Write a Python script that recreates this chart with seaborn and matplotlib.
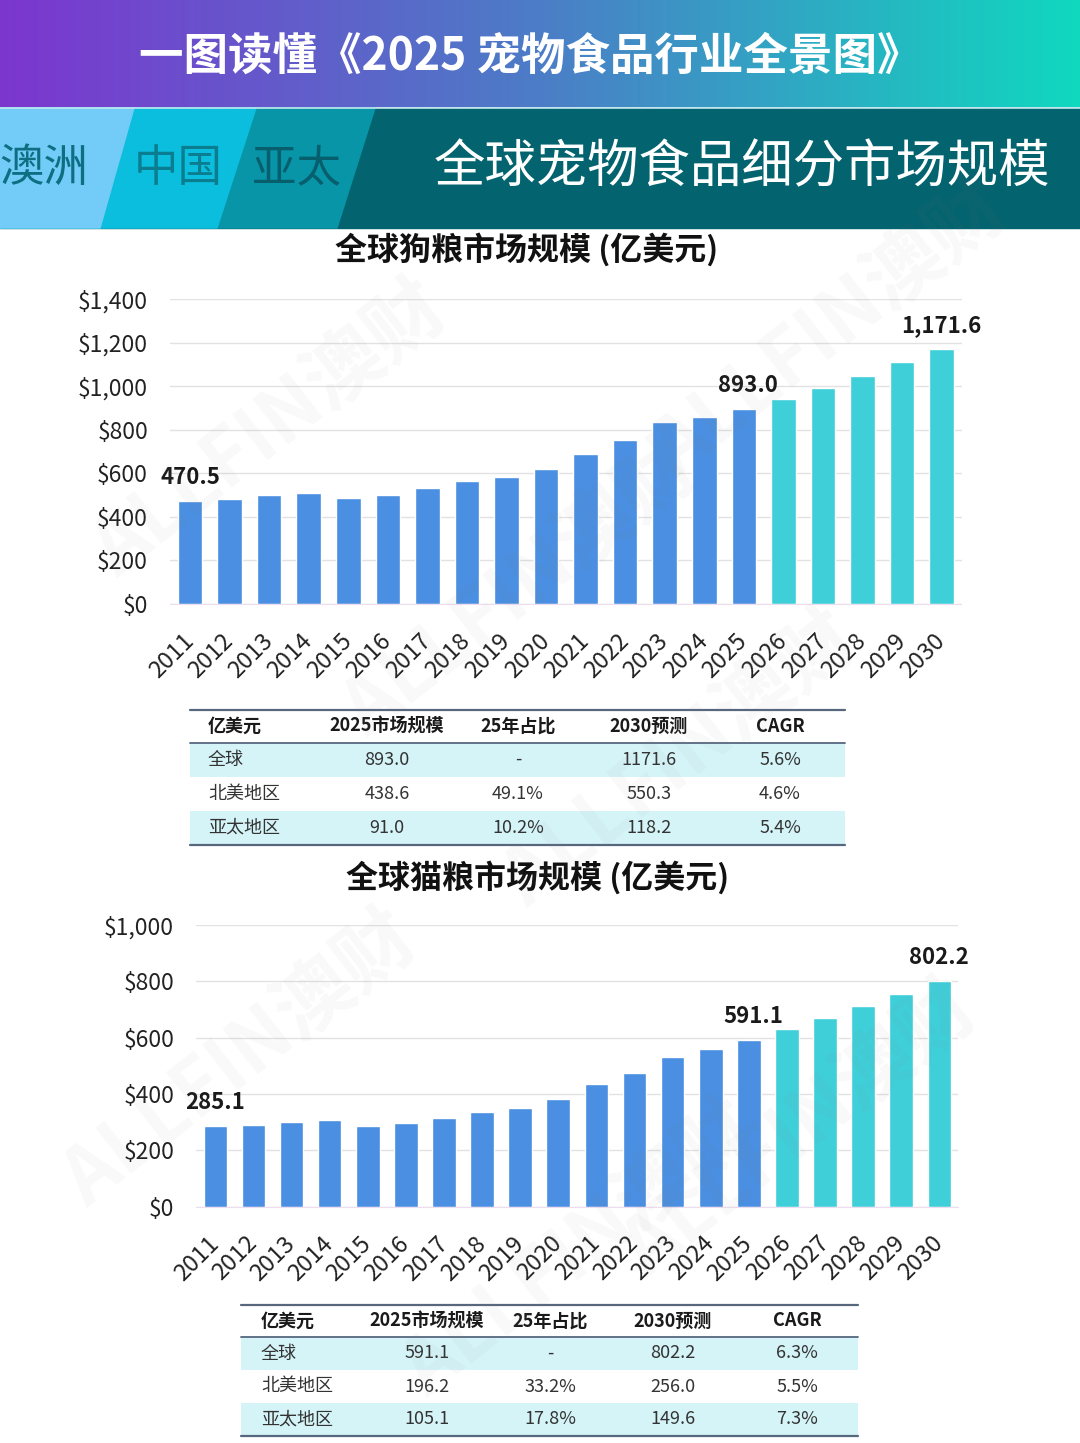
import numpy as np
import pandas as pd
import seaborn as sns
import matplotlib.pyplot as plt
from matplotlib.colors import LinearSegmentedColormap
from matplotlib.patches import Polygon, Rectangle
from matplotlib.ticker import FuncFormatter

sns.set_style("white")
plt.rcParams['font.family'] = ['Noto Sans CJK SC', 'DejaVu Sans']

# ---- data ----
years = [str(y) for y in range(2011, 2031)]
period = ['actual'] * 15 + ['forecast'] * 5
dog_vals = [470.5, 480, 500, 511, 485, 500, 532, 565, 583, 620,
            690, 754, 834, 860, 893.0, 941, 993, 1047, 1109, 1171.6]
cat_vals = [285.1, 289, 302, 309, 285, 296, 314, 337, 350, 381,
            436, 475, 531, 560, 591.1, 630, 670, 711, 754, 802.2]
label_idx = [0, 14, 19]

table_header = ['亿美元', '2025市场规模', '25年占比', '2030预测', 'CAGR']
dog_rows = [['全球', '893.0', '-', '1171.6', '5.6%'],
            ['北美地区', '438.6', '49.1%', '550.3', '4.6%'],
            ['亚太地区', '91.0', '10.2%', '118.2', '5.4%']]
cat_rows = [['全球', '591.1', '-', '802.2', '6.3%'],
            ['北美地区', '196.2', '33.2%', '256.0', '5.5%'],
            ['亚太地区', '105.1', '17.8%', '149.6', '7.3%']]

BLUE = '#4A8FE1'
TEAL = '#3FCFD9'
W, H = 1080, 1443

fig = plt.figure(figsize=(W / 100, H / 100), dpi=100)


def rect(l, t, r, b):
    return [l / W, 1 - b / H, (r - l) / W, (b - t) / H]


# ---- background / header ----
bg = fig.add_axes([0, 0, 1, 1])
bg.set_xlim(0, W)
bg.set_ylim(H, 0)
bg.axis('off')

grad = LinearSegmentedColormap.from_list('hdr', ['#7C36CF', '#4C7DC7', '#10D8BF'])
bg.imshow(np.linspace(0, 1, 256)[None, :], cmap=grad, aspect='auto',
          extent=(0, W, 107, 0), zorder=0)
bg.text(530, 57, '一图读懂《2025 宠物食品行业全景图》', color='white', fontsize=32,
        fontweight='bold', ha='center', va='center', zorder=3)

bg.add_patch(Rectangle((0, 108), W, 120, color='#03636F', zorder=1))
bg.add_patch(Polygon([(0, 108), (375, 108), (337, 228), (0, 228)], color='#0895A8', zorder=1))
bg.add_patch(Polygon([(0, 108), (256, 108), (217, 228), (0, 228)], color='#0CBEDD', zorder=1))
bg.add_patch(Polygon([(0, 108), (134, 108), (100, 228), (0, 228)], color='#73CBF7', zorder=1))
bg.plot([0, W], [107.5, 107.5], color='#BFE6F0', lw=1.2, zorder=2)
bg.text(44, 168, '澳洲', color='#0E6F82', fontsize=32, ha='center', va='center', zorder=3)
bg.text(178, 168, '中国', color='#0A7D90', fontsize=32, ha='center', va='center', zorder=3)
bg.text(297, 168, '亚太', color='#075F6E', fontsize=32, ha='center', va='center', zorder=3)
bg.text(742, 168, '全球宠物食品细分市场规模', color='white', fontsize=37,
        ha='center', va='center', zorder=3)

bg.text(527, 250, '全球狗粮市场规模 (亿美元)', fontsize=23, fontweight='bold',
        ha='center', va='center', color='#111111')
bg.text(538, 878, '全球猫粮市场规模 (亿美元)', fontsize=23, fontweight='bold',
        ha='center', va='center', color='#111111')


# ---- tables ----
def draw_table(left, right, top, head_h, row_h, cols, rows):
    y = top + head_h
    for i, row in enumerate(rows):
        if i % 2 == 0:
            bg.add_patch(Rectangle((left, y + i * row_h), right - left, row_h,
                                   color='#D5F4F8', zorder=1, lw=0))
    bottom = y + len(rows) * row_h
    bg.plot([left, right], [top, top], color='#56677E', lw=1.6, zorder=2)
    bg.plot([left, right], [y, y], color='#56677E', lw=1.3, zorder=2)
    bg.plot([left, right], [bottom, bottom], color='#56677E', lw=1.6, zorder=2)
    for j, h in enumerate(table_header):
        bg.text(cols[j], top + head_h / 2, h, fontsize=13, fontweight='bold',
                ha='left' if j == 0 else 'center', va='center', color='#1A1A1A', zorder=3)
    for i, row in enumerate(rows):
        for j, v in enumerate(row):
            bg.text(cols[j], y + (i + 0.5) * row_h, v, fontsize=13,
                    ha='left' if j == 0 else 'center', va='center', color='#333333', zorder=3)


draw_table(190, 845, 710, 33, 34, [208, 387, 518, 649, 780], dog_rows)
draw_table(241, 858, 1305, 32, 33, [261, 427, 550, 673, 797], cat_rows)


# ---- bar charts ----
def bar_chart(pos, vals, ymax, step):
    ax = fig.add_axes(pos)
    ax.patch.set_alpha(0)
    df = pd.DataFrame({'year': years, 'value': vals, 'period': period})
    sns.barplot(data=df, x='year', y='value', hue='period', dodge=False,
                palette={'actual': BLUE, 'forecast': TEAL}, width=0.62,
                saturation=1, legend=False, ax=ax, zorder=2)
    ax.set_xlim(-0.5, len(years) - 0.5)
    ax.set_ylim(0, ymax)
    ax.set_yticks(np.arange(0, ymax + 1, step))
    ax.yaxis.set_major_formatter(FuncFormatter(lambda v, p: f'${v:,.0f}'))
    ax.grid(axis='y', color='#E2E2E2', lw=1, zorder=0)
    ax.set_axisbelow(True)
    for s in ['top', 'right', 'left']:
        ax.spines[s].set_visible(False)
    ax.spines['bottom'].set_color('#EEDDF0')
    ax.set_xlabel('')
    ax.set_ylabel('')
    ax.tick_params(axis='y', length=0, pad=16, labelsize=16.5, labelcolor='#222222')
    ax.tick_params(axis='x', length=0, pad=24, labelsize=17, labelcolor='#222222')
    for lab in ax.get_xticklabels():
        lab.set_rotation(45)
        lab.set_ha('right')
        lab.set_va('center')
        lab.set_rotation_mode('anchor')
    for i in label_idx:
        ax.annotate(f'{vals[i]:,.1f}', (i, vals[i]), xytext=(3 if i == 14 else 0, 17),
                    textcoords='offset points', ha='center', va='center',
                    fontsize=16, fontweight='bold', color='#1A1A1A')
    return ax


bar_chart(rect(170.2, 299, 961.5, 604), dog_vals, 1400, 200)
bar_chart(rect(196.3, 925, 958.4, 1206.7), cat_vals, 1000, 200)

# ---- faint watermark ----
wm = fig.add_axes([0, 0, 1, 1], zorder=10)
wm.set_xlim(0, W)
wm.set_ylim(H, 0)
wm.axis('off')
for x, y in [(270, 430), (520, 590), (830, 330), (680, 760), (240, 1060), (580, 1250), (800, 1130)]:
    wm.text(x, y, 'ALLFIN澳财', fontsize=56, fontweight='bold', color='#888888',
            alpha=0.05, rotation=38, ha='center', va='center')

fig.savefig('out.png', dpi=100)
